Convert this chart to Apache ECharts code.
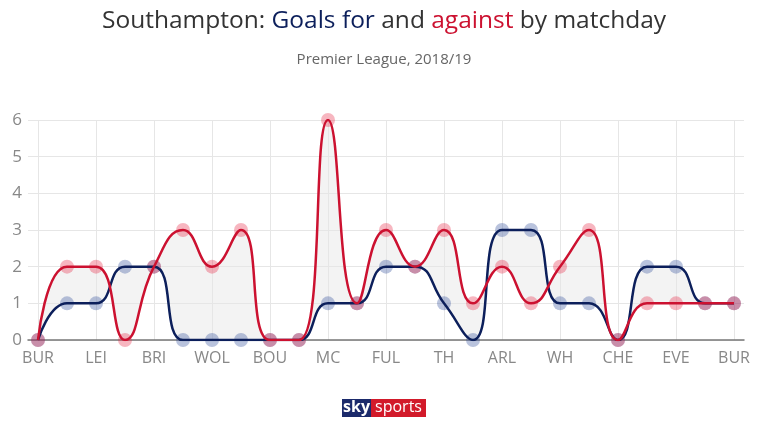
<!DOCTYPE html>
<html><head><meta charset="utf-8">
<script src="https://cdn.jsdelivr.net/npm/echarts@6/dist/echarts.min.js"></script>
<style>html,body{margin:0;padding:0;background:#fff}#c{width:768px;height:432px}</style>
</head><body><div id="c"></div>
<script>
const categories = ['BUR','EVE','LEI','CRY','BRI','LIV','WOL','CHE','BOU','NEW','MC','WAT','FUL','MU','TH','CAR','ARL','HUD','WH','MC','CHE','LEI','EVE','CRY','BUR'];
const goalsFor =     [0,1,1,2,2,0,0,0,0,0,1,1,2,2,1,0,3,3,1,1,0,2,2,1,1];
const goalsAgainst = [0,2,2,0,2,3,2,3,0,0,6,1,3,2,3,1,2,1,2,3,0,1,1,1,1];
const yTicks = [0,1,2,3,4,5,6];

const NAVY = '#0c1f5b', RED = '#cc1130';
const FONT = '"Open Sans", "Noto Sans", sans-serif';
const chart = echarts.init(document.getElementById('c'), null, {renderer:'canvas'});
const smooth = 0.5;
chart.setOption({
  backgroundColor: 'transparent',
  animation: false,
  title: [{
    left: 'center', top: 4, zlevel: 1,
    text: '{a|Southampton: }{b|Goals for}{a| and }{c|against}{a| by matchday}',
    textStyle: { fontWeight: 'normal', rich: {
      a: {fontFamily: FONT, fontSize: 24.5, fontWeight: 'normal', color: '#333'},
      b: {fontFamily: FONT, fontSize: 24.5, fontWeight: 'normal', color: NAVY},
      c: {fontFamily: FONT, fontSize: 24.5, fontWeight: 'normal', color: RED}
    }}
  }, {
    left: 'center', top: 47, zlevel: 1,
    text: 'Premier League, 2018/19',
    textStyle: {fontFamily: FONT, fontSize: 15, fontWeight: 'normal', color: '#666'}
  }],
  grid: [
    {left: 38, right: 34, top: 120, bottom: 92, zlevel: 1},
    {left: 28, right: 24, top: 120, bottom: 92, zlevel: 1}
  ],
  xAxis: [{
    gridIndex: 0, type: 'category', boundaryGap: false, data: categories, zlevel: 1,
    axisLine: {show: false}, axisTick: {show: false},
    axisLabel: {interval: 1, color: '#888', fontFamily: FONT, fontSize: 16, margin: 10},
    splitLine: {show: true, interval: 1, lineStyle: {color: '#e6e6e6', width: 1}}
  }, {
    gridIndex: 1, type: 'value', min: 0, max: 1, zlevel: 1,
    axisLine: {show: true, lineStyle: {color: '#777', width: 1.5}},
    axisTick: {show: false}, axisLabel: {show: false}, splitLine: {show: false}
  }],
  yAxis: [{
    gridIndex: 0, type: 'value', min: 0, max: 6, interval: 1, zlevel: 1,
    axisLine: {show: false}, axisTick: {show: false}, axisLabel: {show: false}, splitLine: {show: false}
  }, {
    gridIndex: 1, type: 'value', min: yTicks[0], max: yTicks[yTicks.length-1], interval: 1, zlevel: 1,
    axisLine: {show: false}, axisTick: {show: false},
    axisLabel: {color: '#888', fontFamily: FONT, fontSize: 17, margin: 6},
    splitLine: {lineStyle: {color: '#e6e6e6', width: 1}}
  }],
  series: [
    {type: 'line', data: goalsFor, smooth: smooth, zlevel: 0, blendMode: 'xor', showSymbol: false, symbol: 'none',
     lineStyle: {width: 0, opacity: 0}, areaStyle: {color: '#f3f3f3', opacity: 1}, silent: true},
    {type: 'line', data: goalsAgainst, smooth: smooth, zlevel: 0, blendMode: 'xor', showSymbol: false, symbol: 'none',
     lineStyle: {width: 0, opacity: 0}, areaStyle: {color: '#f3f3f3', opacity: 1}, silent: true},
    {type: 'scatter', data: goalsFor, zlevel: 1, symbolSize: 14, itemStyle: {color: '#2a4a99', opacity: 0.33}},
    {type: 'scatter', data: goalsAgainst, zlevel: 1, symbolSize: 14, itemStyle: {color: '#e8203f', opacity: 0.33}},
    {type: 'line', data: goalsFor, smooth: smooth, zlevel: 1, showSymbol: false, symbol: 'none',
     lineStyle: {color: NAVY, width: 2.5}},
    {type: 'line', data: goalsAgainst, smooth: smooth, zlevel: 1, showSymbol: false, symbol: 'none',
     lineStyle: {color: RED, width: 2.5}}
  ],
  graphic: [{
    type: 'group', left: 342, top: 399, zlevel: 1,
    children: [
      {type: 'rect', shape: {x: 0, y: 0, width: 29, height: 18}, style: {fill: '#1b2a6b'}},
      {type: 'rect', shape: {x: 29, y: 0, width: 55, height: 18}, style: {fill: '#d21a2a'}},
      {type: 'text', x: 14.5, y: 8.5, style: {text: 'sky', fill: '#fff', font: 'bold 16px ' + FONT, align: 'center', verticalAlign: 'middle'}},
      {type: 'text', x: 56.5, y: 8.5, style: {text: 'sports', fill: '#fff', font: '16px ' + FONT, align: 'center', verticalAlign: 'middle'}}
    ]
  }]
});
</script></body></html>
